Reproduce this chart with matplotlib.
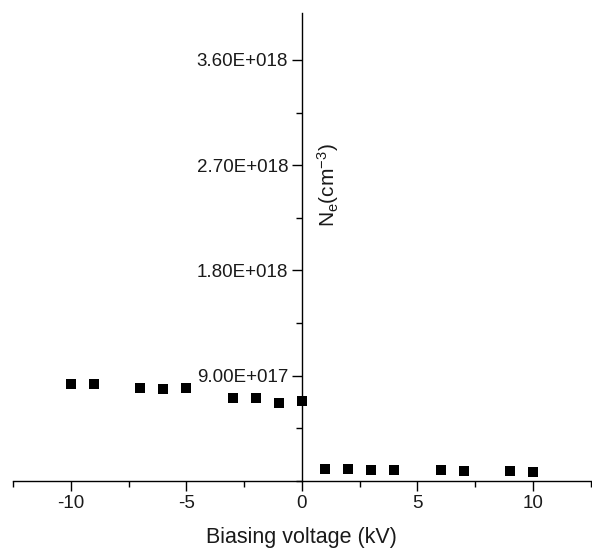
import matplotlib
matplotlib.use("Agg")
import matplotlib.pyplot as plt
from matplotlib.ticker import FixedLocator, MultipleLocator

plt.rcParams['font.family'] = ['Liberation Sans', 'DejaVu Sans']
plt.rcParams['mathtext.default'] = 'regular'

# Biasing voltage (kV) and electron density (cm^-3)
voltage = [-10, -9, -7, -6, -5, -3, -2, -1, 0, 1, 2, 3, 4, 6, 7, 9, 10]
density = [8.29e17, 8.29e17, 7.92e17, 7.90e17, 7.92e17, 7.07e17, 7.05e17, 6.70e17, 6.87e17,
           1.04e17, 1.03e17, 9.6e16, 9.0e16, 9.0e16, 8.1e16, 8.1e16, 7.6e16]

yticks = [9.0e17, 1.8e18, 2.7e18, 3.6e18]
ytick_labels = ["9.00E+017", "1.80E+018", "2.70E+018", "3.60E+018"]
xticks = [-10, -5, 0, 5, 10]

fig = plt.figure(figsize=(5.92, 5.49), dpi=100)
ax = fig.add_axes([0.022, 0.124, 0.976, 0.852])

ax.plot(voltage, density, 's', color='black', ms=6.5, mew=0, clip_on=False, zorder=3)

ax.set_xlim(-12.5, 12.5)
ax.set_ylim(0, 4.0e18)

# axis crossing at x = 0
ax.spines['left'].set_position(('data', 0))
ax.spines['top'].set_visible(False)
ax.spines['right'].set_visible(False)
for s in ('left', 'bottom'):
    ax.spines[s].set_linewidth(1.0)

ax.xaxis.set_major_locator(FixedLocator(xticks))
ax.xaxis.set_minor_locator(MultipleLocator(2.5))
ax.set_xticklabels([str(v) for v in xticks])
ax.yaxis.set_major_locator(FixedLocator(yticks))
ax.yaxis.set_minor_locator(MultipleLocator(4.5e17))
ax.set_yticklabels(ytick_labels)

ax.tick_params(which='major', direction='out', length=7, width=1.0,
               labelsize=13.5, pad=3, colors='black')
ax.tick_params(which='minor', direction='out', length=4, width=1.0)
ax.tick_params(axis='x', labelcolor='#1a1a1a')
ax.tick_params(axis='y', labelcolor='#1a1a1a')

ax.set_xlabel("Biasing voltage (kV)", fontsize=15.5, color='#1a1a1a', labelpad=11)
ax.text(0.545, 0.632, r"N$_{e}$(cm$^{-3}$)", transform=ax.transAxes,
        rotation=90, ha='center', va='center', fontsize=15, color='#1a1a1a')

fig.savefig("out.png", dpi=100)
